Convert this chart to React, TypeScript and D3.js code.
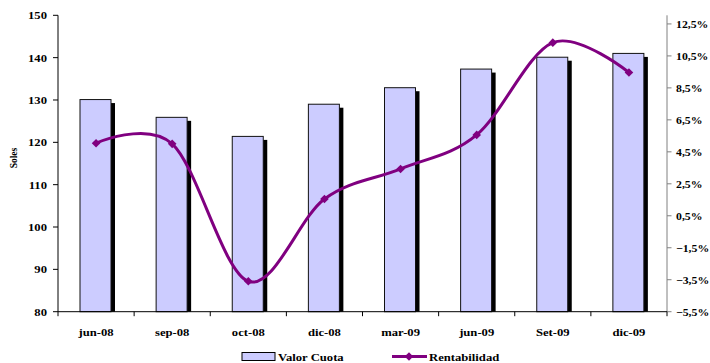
import React from "react";
import * as d3 from "d3";

const categories = ["jun-08", "sep-08", "oct-08", "dic-08", "mar-09", "jun-09", "Set-09", "dic-09"];
const valorCuota = [130.1, 125.9, 121.4, 129.0, 132.9, 137.3, 140.1, 141.0];
const rentabilidad = [5.04, 5.0, -3.6, 1.55, 3.43, 5.56, 11.33, 9.46];
const leftTicks = [80, 90, 100, 110, 120, 130, 140, 150];
const rightTicks = [-5.5, -3.5, -1.5, 0.5, 2.5, 4.5, 6.5, 8.5, 10.5, 12.5];

const W = 710;
const H = 363;
const plot = { left: 58, right: 667, top: 15.3, bottom: 311.7 };
const FONT = "'Liberation Serif', 'Times New Roman', serif";
const STRETCH = 1.15;
const PURPLE = "#800080";
const BAR_FILL = "#CCCCFF";

function Label(props: {
  x: number;
  y: number;
  anchor?: "start" | "middle" | "end";
  size?: number;
  stretch?: number;
  children: React.ReactNode;
}) {
  const { x, y, anchor = "start", size = 11, stretch = STRETCH, children } = props;
  return (
    <text
      transform={`translate(${x},${y}) scale(${stretch},1)`}
      textAnchor={anchor}
      fontFamily={FONT}
      fontWeight="bold"
      fontSize={size}
      fill="#000"
    >
      {children}
    </text>
  );
}

function diamond(cx: number, cy: number, r: number) {
  return `M${cx},${cy - r}L${cx + r},${cy}L${cx},${cy + r}L${cx - r},${cy}Z`;
}

export default function App() {
  const x = d3.scaleBand<string>().domain(categories).range([plot.left, plot.right]).padding(0);
  const yLeft = d3.scaleLinear().domain([80, 150]).range([plot.bottom, plot.top]);
  const yRight = d3.scaleLinear().domain([-5.5, 13.04]).range([plot.bottom, plot.top]);
  const bw = x.bandwidth();
  const barW = 31;
  const barOffset = 22;

  const pts: [number, number][] = categories.map((c, i) => [
    (x(c) as number) + bw / 2,
    yRight(rentabilidad[i]),
  ]);
  const line = d3.line().curve(d3.curveCardinal.tension(0));
  const fmtPct = (v: number) => d3.format(".1f")(v).replace(".", ",") + "%";

  const boundaries = d3.range(categories.length + 1).map((i) => plot.left + i * bw);

  return (
    <svg
      width={W}
      height={H}
      style={{ position: "absolute", left: 0, top: 0, background: "#fff" }}
    >
      <rect x={0} y={0} width={W} height={H} fill="#fff" />

      {/* bars with drop shadow */}
      {categories.map((c, i) => {
        const bx = (x(c) as number) + barOffset;
        const by = yLeft(valorCuota[i]);
        const bh = plot.bottom - by;
        return (
          <g key={c}>
            <rect x={bx + 4} y={by + 3.5} width={barW} height={bh - 3.5} fill="#000" />
            <rect
              x={bx}
              y={by}
              width={barW}
              height={bh}
              fill={BAR_FILL}
              stroke="#111"
              strokeWidth={1}
            />
          </g>
        );
      })}

      {/* left axis */}
      <line x1={plot.left} x2={plot.left} y1={plot.top} y2={plot.bottom} stroke="#000" strokeWidth={1} />
      {leftTicks.map((t) => (
        <g key={t}>
          <line x1={plot.left - 5} x2={plot.left} y1={yLeft(t)} y2={yLeft(t)} stroke="#000" />
          <Label x={plot.left - 11} y={yLeft(t) + 4} anchor="end">
            {t}
          </Label>
        </g>
      ))}

      {/* right axis */}
      <line x1={plot.right} x2={plot.right} y1={plot.top} y2={plot.bottom} stroke="#808080" strokeWidth={1} />
      {rightTicks.map((t) => (
        <g key={t}>
          <line x1={plot.right} x2={plot.right + 4.5} y1={yRight(t)} y2={yRight(t)} stroke="#808080" />
          <Label x={plot.right + 9} y={yRight(t) + 4} anchor="start" stretch={1.07}>
            {fmtPct(t)}
          </Label>
        </g>
      ))}

      {/* category axis */}
      <line x1={plot.left} x2={plot.right} y1={plot.bottom} y2={plot.bottom} stroke="#000" strokeWidth={1} />
      {boundaries.map((b, i) => (
        <line key={i} x1={b} x2={b} y1={plot.bottom} y2={plot.bottom + 4.5} stroke="#000" />
      ))}
      {categories.map((c) => (
        <Label key={c} x={(x(c) as number) + bw / 2} y={335.5} anchor="middle">
          {c}
        </Label>
      ))}

      {/* rentabilidad line */}
      <path d={line(pts) || ""} fill="none" stroke={PURPLE} strokeWidth={3} strokeLinejoin="round" />
      {pts.map(([px, py], i) => (
        <path key={i} d={diamond(px, py, 4.3)} fill={PURPLE} />
      ))}

      {/* y-axis title */}
      <text
        transform={`translate(16.5,158) rotate(-90) scale(1,${STRETCH})`}
        textAnchor="middle"
        fontFamily={FONT}
        fontWeight="bold"
        fontSize={9.5}
      >
        Soles
      </text>

      {/* legend */}
      <rect x={242} y={352.5} width={33} height={8} fill={BAR_FILL} stroke="#000" strokeWidth={1} />
      <Label x={278} y={361} anchor="start" size={11}>
        Valor Cuota
      </Label>
      <line x1={392} x2={427} y1={356.5} y2={356.5} stroke={PURPLE} strokeWidth={3} />
      <path d={diamond(409, 356.5, 4.3)} fill={PURPLE} />
      <Label x={429} y={361} anchor="start" size={11}>
        Rentabilidad
      </Label>
    </svg>
  );
}
